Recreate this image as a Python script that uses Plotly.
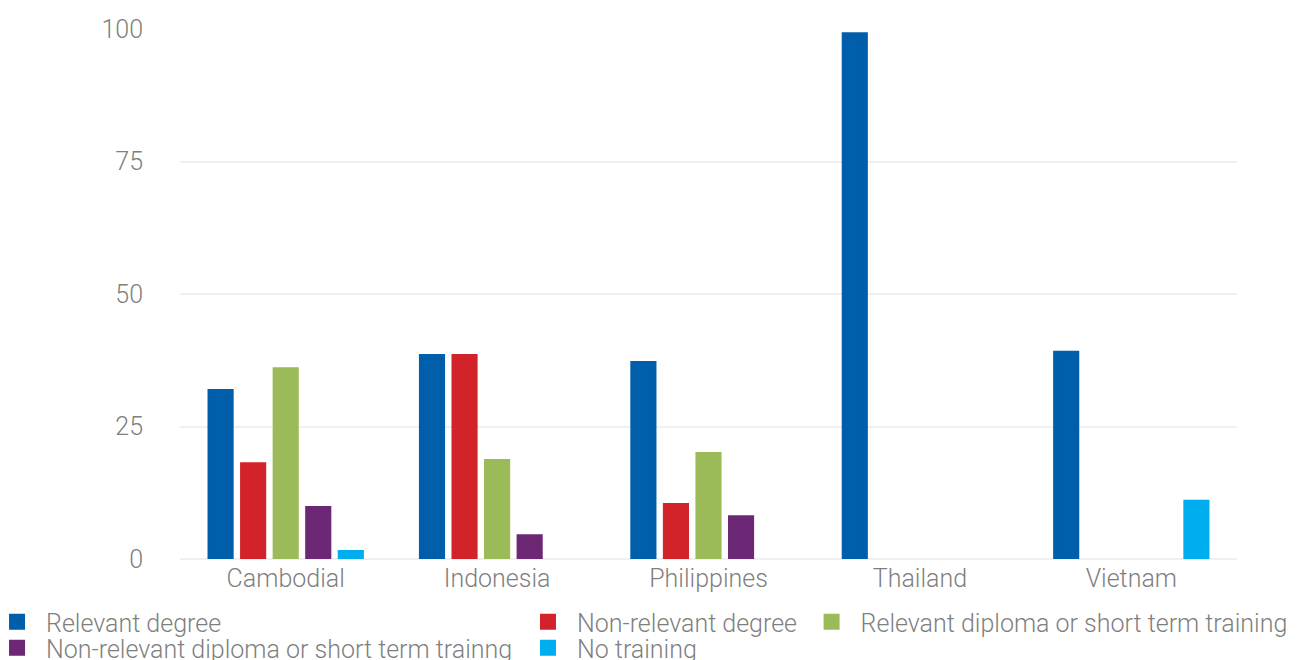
import plotly.graph_objects as go

countries = ['Cambodial', 'Indonesia', 'Philippines', 'Thailand', 'Vietnam']

# None = no bar shown for that country
relevant_degree = [31.7, 38.3, 37.0, 99.0, 38.9]
non_relevant_degree = [17.9, 38.3, 10.2, None, None]
relevant_diploma = [35.8, 18.5, 19.8, None, None]
non_relevant_diploma = [9.6, 4.3, 7.9, None, None]
no_training = [1.3, None, None, None, 10.8]

series_names = [
    'Relevant degree',
    'Non-relevant degree',
    'Relevant diploma or short term training',
    'Non-relevant diploma or short term trainng',
    'No training',
]
series_values = [relevant_degree, non_relevant_degree, relevant_diploma,
                 non_relevant_diploma, no_training]
colors = ['#005EAA', '#D2232A', '#9BBB59', '#6C2775', '#00AEEF']

# each entry gets its own legend so the odd column layout can be matched
# (x, y) in paper coords of the plot area
legend_pos = [(-0.1816, -0.119), (0.3207, -0.119), (0.589, -0.119),
              (-0.1816, -0.168), (0.3207, -0.168)]

FONT = 'Roboto'
GRAY = '#7f7f7f'
FS = 25
LW = 4

fig = go.Figure()
for i, (name, vals, color) in enumerate(zip(series_names, series_values, colors)):
    fig.add_trace(go.Bar(
        x=countries, y=vals, name=name,
        marker=dict(color=color, line=dict(width=LW, color=color)),
        legend='legend' if i == 0 else f'legend{i + 1}',
    ))

legends = {}
for i, (lx, ly) in enumerate(legend_pos):
    key = 'legend' if i == 0 else f'legend{i + 1}'
    legends[key] = dict(
        orientation='v',
        font=dict(family=FONT, size=FS, color=GRAY, weight=300),
        bgcolor='rgba(0,0,0,0)',
        x=lx, y=ly, xanchor='left', yanchor='middle',
        itemwidth=48,
    )

# page body has an 8px margin, so the figure is a bit smaller than the window
fig.update_layout(
    width=1290, height=652,
    barmode='group',
    bargap=0.23,
    bargroupgap=0.32,
    plot_bgcolor='white',
    paper_bgcolor='white',
    font=dict(family=FONT, color=GRAY, weight=300),
    margin=dict(l=172, r=61, t=21, b=101, autoexpand=False),
    showlegend=True,
    xaxis=dict(
        tickfont=dict(family=FONT, size=FS, color=GRAY, weight=300),
        showgrid=False, showline=False, ticks='',
        ticklabelstandoff=2,
    ),
    yaxis=dict(
        range=[0, 100],
        tickvals=[0, 25, 50, 75, 100],
        tickfont=dict(family=FONT, size=FS, color=GRAY, weight=300),
        showgrid=True, gridcolor='#F2F0EE', gridwidth=2,
        zeroline=True, zerolinecolor='#F2F0EE', zerolinewidth=2,
        showline=False, ticks='',
        ticklabelstandoff=36,
    ),
    **legends,
)

fig.write_html('out.html')
